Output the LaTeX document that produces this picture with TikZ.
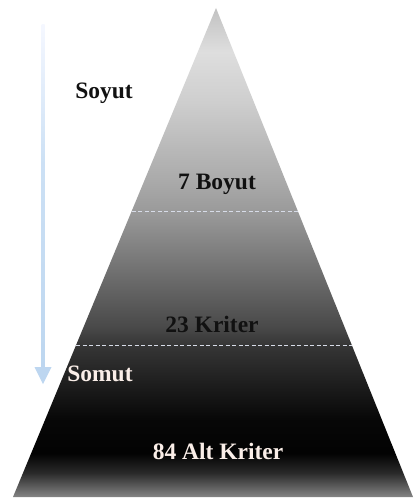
\documentclass[tikz,border=0pt]{standalone}
\usepackage{fontspec}
\setmainfont{Liberation Serif}
\usetikzlibrary{arrows.meta,calc}

% vertical grey ramp of the pyramid; the filled path spans 25bp (base) to 75bp (apex)
\pgfdeclareverticalshading{pyramidramp}{100bp}{%
  rgb(0bp)=(0.52,0.52,0.52);
  rgb(25bp)=(0.52,0.52,0.52);
  rgb(27.5bp)=(0.16,0.16,0.16);
  rgb(29.5bp)=(0.01,0.01,0.01);
  rgb(33bp)=(0.03,0.03,0.03);
  rgb(40.5bp)=(0.21,0.21,0.21);
  rgb(42.5bp)=(0.29,0.29,0.29);
  rgb(54bp)=(0.60,0.60,0.60);
  rgb(57bp)=(0.66,0.66,0.66);
  rgb(65.5bp)=(0.81,0.81,0.81);
  rgb(70.5bp)=(0.87,0.87,0.87);
  rgb(75bp)=(0.76,0.76,0.76);
  rgb(100bp)=(0.76,0.76,0.76)}

% light blue shaft that fades out towards the top
\pgfdeclareverticalshading{shaftramp}{100bp}{%
  rgb(0bp)=(0.74,0.84,0.94);
  rgb(25bp)=(0.74,0.84,0.94);
  rgb(55bp)=(0.80,0.88,0.96);
  rgb(75bp)=(0.96,0.97,1.00);
  rgb(100bp)=(0.96,0.97,1.00)}

\definecolor{arrowblue}{RGB}{189,214,240}
\definecolor{darktext}{RGB}{17,17,17}
\definecolor{lighttext}{RGB}{250,238,232}
\definecolor{dashcol}{RGB}{215,220,232}

\tikzset{
  lvl/.style={font=\fontsize{23.5}{27}\selectfont\bfseries, anchor=base, inner sep=0pt},
  divider/.style={draw=dashcol, line width=0.8pt, dash pattern=on 4pt off 2.5pt},
}

\begin{document}
\begin{tikzpicture}[x=1pt, y=-1pt]
  \useasboundingbox (0,0) rectangle (414,500);

  % pyramid corners
  \coordinate (apex) at (216,8);
  \coordinate (bl) at (13,497);
  \coordinate (br) at (413,497);

  \shade[shading=pyramidramp] (apex) -- (br) -- (bl) -- cycle;

  % level dividers, edge to edge
  \coordinate (d1l) at ($(apex)!0.415!(bl)$);
  \coordinate (d1r) at ($(apex)!0.415!(br)$);
  \coordinate (d2l) at ($(apex)!0.689!(bl)$);
  \coordinate (d2r) at ($(apex)!0.689!(br)$);
  \draw[divider] (d1l) -- (d1r);
  \draw[divider] (d2l) -- (d2r);

  % abstract-to-concrete arrow
  \coordinate (atop) at (43,25);
  \coordinate (abase) at (43,368);
  \coordinate (atip) at (43,384);
  \shade[shading=shaftramp] (41.5,25) rectangle (44.5,368);
  \fill[arrowblue] (34.5,367) -- (51.5,367) -- (atip) -- cycle;

  % labels
  \node[lvl, text=darktext] (soyut) at (104,99) {Soyut};
  \node[lvl, text=lighttext] (somut) at (100,381) {Somut};
  \node[lvl, text=darktext] (boyut) at (217,189) {7 Boyut};
  \node[lvl, text=darktext] (kriter) at (212,332) {23 Kriter};
  \node[lvl, text=lighttext] (alt) at (218,459) {84 Alt Kriter};
\end{tikzpicture}
\end{document}
